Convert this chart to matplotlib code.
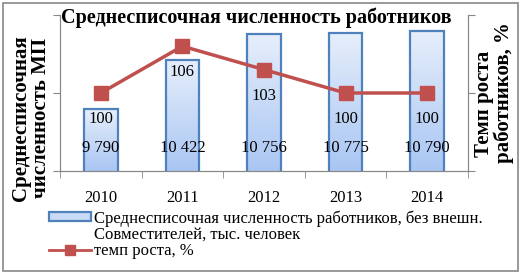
import matplotlib
matplotlib.use("Agg")
import matplotlib.pyplot as plt
import numpy as np
from matplotlib.colors import LinearSegmentedColormap
from matplotlib.patches import Rectangle
from matplotlib.lines import Line2D

years = ["2010", "2011", "2012", "2013", "2014"]
staff = [9790, 10422, 10756, 10775, 10790]
staff_labels = ["9 790", "10 422", "10 756", "10 775", "10 790"]
growth = [100, 106, 103, 100, 100]
bar_label = ['Среднесписочная численность работников, без внешн.',
             'Совместителей, тыс. человек']
line_label = 'темп роста, %'

plt.rcParams['font.family'] = ['Liberation Serif', 'DejaVu Serif']

fig = plt.figure(figsize=(5.21, 2.73), dpi=100)
ax = fig.add_axes([60 / 521, 1 - 171 / 273, 408 / 521, 156 / 273])
ax2 = ax.twinx()

x = np.arange(len(years))
bars = ax.bar(x, staff, width=0.41, bottom=0, color='none',
              edgecolor='#4f81bd', linewidth=1.6, zorder=3)
cmap = LinearSegmentedColormap.from_list('bb', ['#a9c6f3', '#e6eefb'])
grad = np.linspace(0, 1, 100).reshape(-1, 1)
for b in bars:
    x0, w, h = b.get_x(), b.get_width(), b.get_height()
    im = ax.imshow(grad, extent=[x0, x0 + w, 9000, h], origin='lower',
                   cmap=cmap, aspect='auto', zorder=2)
    im.set_clip_path(b)

ax.set_ylim(9000, 11000)
ax.set_xlim(-0.5, len(years) - 0.5)
ax.set_yticks([9000, 10000, 11000])
ax.set_yticklabels([])
ax.set_xticks(x)
ax.set_xticklabels(years, fontsize=12)
ax.set_xticks(np.arange(-0.5, len(years)), minor=True)
ax.tick_params(axis='x', which='major', length=0, pad=14)
ax.tick_params(axis='x', which='minor', length=5, color='#888888')
ax.tick_params(axis='y', length=5, color='#888888')

for i, lab in enumerate(staff_labels):
    ax.annotate(lab, (x[i], 9000), xytext=(0, 23), textcoords='offset pixels',
                ha='center', va='center', fontsize=12, zorder=5)

line, = ax2.plot(x, growth, color='#c0504d', lw=2.5, marker='s', ms=10,
                 zorder=4)
ax2.set_ylim(90, 110)
ax2.set_yticks([90, 100, 110])
ax2.set_yticklabels([])
ax2.tick_params(axis='y', length=5, color='#888888')
for i, v in enumerate(growth):
    ax2.annotate(str(v), (x[i], v), xytext=(0, -26), textcoords='offset pixels',
                 ha='center', va='center', fontsize=12, zorder=5)

for a in (ax, ax2):
    a.spines['top'].set_visible(False)
    for s in ('left', 'right', 'bottom'):
        a.spines[s].set_color('#888888')
ax.set_zorder(1)
ax2.set_zorder(2)
ax.patch.set_visible(False)

fig.text(256 / 521, 1 - 18 / 273, 'Среднесписочная численность работников',
         ha='center', va='center', fontsize=14.5, fontweight='bold')
fig.text(31 / 521, 1 - 118 / 273, 'Среднесписочная\nчисленность МП',
         ha='center', va='center', rotation=90, fontsize=15, fontweight='bold',
         linespacing=1.0, multialignment='center')
fig.text(494 / 521, 1 - 93 / 273, 'Темп роста    \nработников, %',
         ha='center', va='center', rotation=90, fontsize=15, fontweight='bold',
         linespacing=1.0, multialignment='center')

bar_handle = Rectangle((0, 0), 1, 1, facecolor='#c9dbf7', edgecolor='#4f81bd', lw=1.6)
line_handle = Line2D([], [], color='#c0504d', lw=2, marker='s', ms=7)
blank = Line2D([], [], color='none')
fig.legend([bar_handle, blank, line_handle], bar_label + [line_label],
           loc='upper left', bbox_to_anchor=(41 / 521, 1 - 202 / 273),
           frameon=False, fontsize=12, handlelength=2.5, handletextpad=0.2,
           handleheight=0.45, borderpad=0, labelspacing=0.0)

fig.patches.append(Rectangle((3 / 521, 2 / 273), 515 / 521, 268 / 273,
                             transform=fig.transFigure, fill=False,
                             edgecolor='#888888', lw=1.2))

fig.savefig('out.png', dpi=100)
